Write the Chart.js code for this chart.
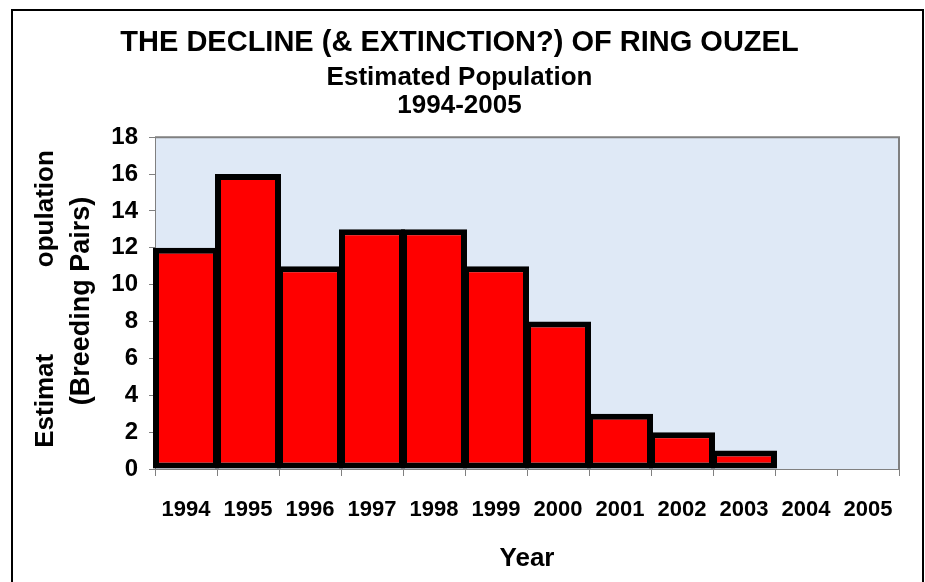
<!DOCTYPE html>
<html>
<head>
<meta charset="utf-8">
<script src="https://cdn.jsdelivr.net/npm/chart.js@4"></script>
<style>
  html, body { margin: 0; padding: 0; background: #fff; }
  #wrap { width: 925px; height: 582px; }
</style>
</head>
<body>
<div id="wrap"><canvas id="ouzelChart" width="925" height="582"></canvas></div>
<script>
// data
var years = ['1994', '1995', '1996', '1997', '1998', '1999', '2000', '2001', '2002', '2003', '2004', '2005'];
var breedingPairs = [12, 16, 11, 13, 13, 11, 8, 3, 2, 1, 0, 0];
var yMin = 0;
var yMax = 18;
var yStep = 2;

var titleText = 'THE DECLINE (& EXTINCTION?) OF RING OUZEL';
var subtitleText = ['Estimated Population', '1994-2005'];
var yTitleLines = ['Estimat            opulation', '(Breeding Pairs)'];
var xTitleText = 'Year';

var fontFam = "'Liberation Sans', Arial, sans-serif";

// frame, plot background and rotated y title
var decorPlugin = {
  id: 'decor',
  beforeDraw: function(chart) {
    var c = chart.ctx;
    var a = chart.chartArea;
    c.save();
    c.fillStyle = '#fff';
    c.fillRect(0, 0, chart.width, chart.height);
    c.fillStyle = '#dfe9f6';
    c.fillRect(a.left, a.top, a.right - a.left, a.bottom - a.top);
    c.strokeStyle = '#000';
    c.lineWidth = 2;
    c.beginPath();
    c.moveTo(12, chart.height);
    c.lineTo(12, 10);
    c.lineTo(923, 10);
    c.lineTo(923, chart.height);
    c.stroke();
    c.restore();
  },
  afterDraw: function(chart) {
    var c = chart.ctx;
    var a = chart.chartArea;
    c.save();
    c.strokeStyle = '#808080';
    c.lineWidth = 2;
    c.beginPath();
    c.moveTo(a.left, a.top);
    c.lineTo(a.right, a.top);
    c.lineTo(a.right, a.bottom);
    c.stroke();
    // y axis title, two lines
    c.fillStyle = '#000';
    c.textAlign = 'center';
    c.textBaseline = 'alphabetic';
    c.translate(53, 299);
    c.rotate(-Math.PI / 2);
    c.font = 'bold 26px ' + fontFam;
    c.fillText(yTitleLines[0], 0, 0);
    c.font = 'bold 27px ' + fontFam;
    c.fillText(yTitleLines[1], -2, 36);
    c.restore();
  }
};

var ctx = document.getElementById('ouzelChart');
var ouzelChart = new Chart(ctx, {
  type: 'bar',
  data: {
    labels: years,
    datasets: [{
      label: 'Breeding Pairs',
      data: breedingPairs,
      backgroundColor: '#ff0000',
      borderColor: '#000000',
      borderWidth: 6,
      borderSkipped: false,
      barPercentage: 1.0645,
      categoryPercentage: 1,
      clip: false
    }]
  },
  options: {
    responsive: false,
    animation: false,
    events: [],
    layout: { padding: { left: 20, right: 26, top: 0, bottom: 0 } },
    plugins: {
      legend: { display: false },
      tooltip: { enabled: false },
      title: {
        display: true,
        text: titleText,
        color: '#000',
        font: { family: fontFam, size: 29, weight: 'bold', lineHeight: 1.0 },
        padding: { top: 28, bottom: 7 }
      },
      subtitle: {
        display: true,
        text: subtitleText,
        color: '#000',
        font: { family: fontFam, size: 26, weight: 'bold', lineHeight: 1.08 },
        padding: { top: 0, bottom: 17 }
      }
    },
    scales: {
      x: {
        grid: { display: true, offset: true, drawOnChartArea: false, tickLength: 7, color: '#808080', lineWidth: 1 },
        border: { display: true, color: '#808080', width: 1 },
        ticks: { color: '#000', font: { family: fontFam, size: 22, weight: 'bold' }, padding: 21, maxRotation: 0, autoSkip: false },
        title: {
          display: true,
          text: xTitleText,
          color: '#000',
          font: { family: fontFam, size: 26, weight: 'bold', lineHeight: 1.2 },
          padding: { top: 0, bottom: 8 }
        },
        afterFit: function(scale) { scale.height = 113; }
      },
      y: {
        min: yMin,
        max: yMax,
        grid: { display: true, drawOnChartArea: false, tickLength: 6, color: '#808080', lineWidth: 1 },
        border: { display: true, color: '#808080', width: 1 },
        ticks: { stepSize: yStep, color: '#000', font: { family: fontFam, size: 24, weight: 'bold' }, padding: 11 },
        afterFit: function(scale) { scale.width = 135; }
      }
    }
  },
  plugins: [decorPlugin]
});
</script>
</body>
</html>
